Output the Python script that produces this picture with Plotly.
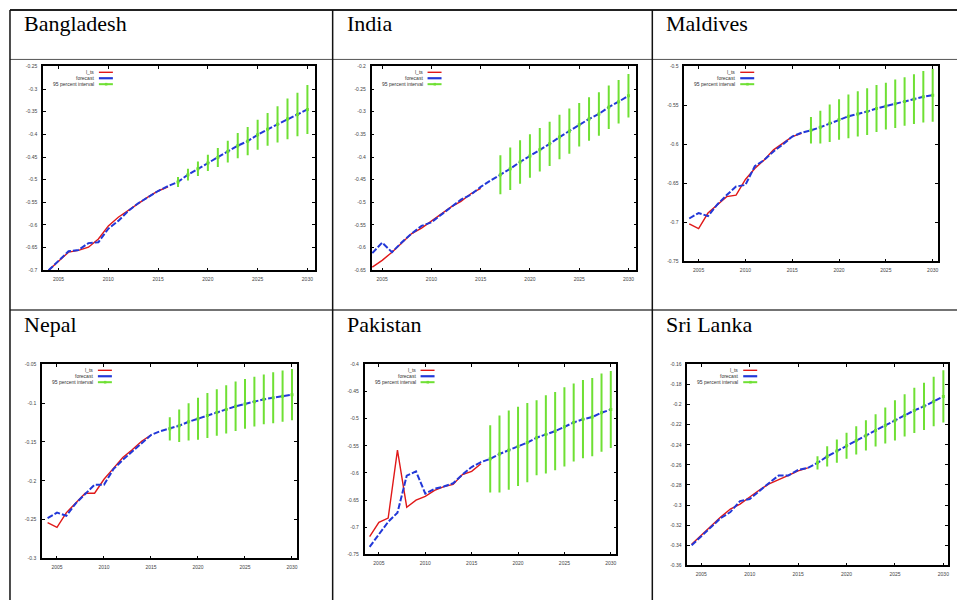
import plotly.graph_objects as go

W, H = 958, 603

countries = ["Bangladesh", "India", "Maldives", "Nepal", "Pakistan", "Sri Lanka"]
years_all = list(range(2004, 2031))
years_interval = list(range(2017, 2031))
x_tick_vals = [2005, 2010, 2015, 2020, 2025, 2030]
x_tick_text = ["2005", "2010", "2015", "2020", "2025", "2030"]

legend_labels = ["l_ts", "forecast", "95 percent interval"]

# ---- Bangladesh ----
bd_actual = [-0.700, -0.680, -0.660, -0.656, -0.649, -0.631, -0.602, -0.583, -0.567,
             -0.553, -0.538, -0.525, -0.516]
bd_forecast = [-0.700, -0.678, -0.658, -0.655, -0.640, -0.638, -0.608, -0.591, -0.569,
               -0.552, -0.538, -0.525, -0.514, -0.505, -0.489, -0.476, -0.463, -0.451,
               -0.438, -0.425, -0.415, -0.401, -0.389, -0.378, -0.366, -0.356, -0.345]
bd_half = [0.011, 0.013, 0.016, 0.018, 0.021, 0.024, 0.028, 0.031, 0.033, 0.036,
           0.040, 0.045, 0.048, 0.054]
bd_yticks = ["-0.7", "-0.65", "-0.6", "-0.55", "-0.5", "-0.45", "-0.4", "-0.35", "-0.3", "-0.25"]

# ---- India ----
in_actual = [-0.643, -0.628, -0.610, -0.589, -0.569, -0.557, -0.542, -0.525, -0.510,
             -0.498, -0.481, -0.469]
in_forecast = [-0.612, -0.589, -0.610, -0.588, -0.569, -0.552, -0.544, -0.527, -0.510,
               -0.494, -0.483, -0.466, -0.452, -0.439, -0.426, -0.411, -0.398, -0.384,
               -0.371, -0.356, -0.343, -0.329, -0.316, -0.305, -0.290, -0.278, -0.265]
in_half = [0.043, 0.047, 0.048, 0.048, 0.048, 0.049, 0.049, 0.050, 0.048, 0.048,
           0.048, 0.048, 0.048, 0.048]
in_yticks = ["-0.65", "-0.6", "-0.55", "-0.5", "-0.45", "-0.4", "-0.35", "-0.3", "-0.25", "-0.2"]

# ---- Maldives ----
mv_actual = [-0.702, -0.708, -0.688, -0.677, -0.667, -0.665, -0.645, -0.631, -0.620,
             -0.607, -0.598, -0.590, -0.586]
mv_forecast = [-0.695, -0.688, -0.692, -0.677, -0.665, -0.654, -0.652, -0.628, -0.620,
               -0.609, -0.600, -0.590, -0.585, -0.582, -0.578, -0.573, -0.568, -0.564,
               -0.561, -0.558, -0.554, -0.551, -0.548, -0.545, -0.542, -0.539, -0.537]
mv_half = [0.017, 0.021, 0.024, 0.026, 0.028, 0.029, 0.030, 0.030, 0.030, 0.031,
           0.031, 0.032, 0.033, 0.034]
mv_yticks = ["-0.75", "-0.7", "-0.65", "-0.6", "-0.55", "-0.5"]

# ---- Nepal ----
np_actual = [-0.254, -0.260, -0.241, -0.228, -0.216, -0.216, -0.198, -0.184, -0.170,
             -0.160, -0.149, -0.141]
np_forecast = [-0.248, -0.241, -0.245, -0.229, -0.217, -0.205, -0.205, -0.185, -0.173,
               -0.162, -0.151, -0.141, -0.136, -0.133, -0.129, -0.124, -0.120, -0.116,
               -0.112, -0.108, -0.104, -0.101, -0.098, -0.095, -0.093, -0.091, -0.089]
np_half = [0.015, 0.021, 0.024, 0.027, 0.029, 0.030, 0.031, 0.032, 0.032, 0.032,
           0.032, 0.033, 0.033, 0.033]
np_yticks = ["-0.3", "-0.25", "-0.2", "-0.15", "-0.1", "-0.05"]

# ---- Pakistan ----
pk_actual = [-0.717, -0.691, -0.683, -0.558, -0.663, -0.650, -0.643, -0.632, -0.625,
             -0.621, -0.603, -0.597, -0.583]
pk_forecast = [-0.736, -0.714, -0.690, -0.673, -0.605, -0.597, -0.638, -0.629, -0.625,
               -0.619, -0.603, -0.589, -0.580, -0.574, -0.565, -0.558, -0.551, -0.544,
               -0.535, -0.529, -0.523, -0.515, -0.507, -0.501, -0.497, -0.489, -0.483]
pk_half = [0.062, 0.071, 0.073, 0.073, 0.073, 0.069, 0.072, 0.072, 0.073, 0.072,
           0.072, 0.072, 0.072, 0.071]
pk_yticks = ["-0.75", "-0.7", "-0.65", "-0.6", "-0.55", "-0.5", "-0.45", "-0.4"]

# ---- Sri Lanka ----
lk_actual = [-0.339, -0.330, -0.320, -0.312, -0.304, -0.299, -0.292, -0.285, -0.279,
             -0.275, -0.2705, -0.266, -0.263]
lk_forecast = [-0.340, -0.331, -0.321, -0.313, -0.307, -0.296, -0.294, -0.2855, -0.278,
               -0.2705, -0.2705, -0.265, -0.263, -0.258, -0.2516, -0.2463, -0.241,
               -0.2357, -0.2307, -0.2257, -0.2208, -0.2158, -0.2108, -0.2058, -0.2018,
               -0.1969, -0.1919]
lk_half = [0.0066, 0.010, 0.0116, 0.013, 0.014, 0.015, 0.016, 0.018, 0.020, 0.021,
           0.0226, 0.0236, 0.0246, 0.026]
lk_yticks = ["-0.36", "-0.34", "-0.32", "-0.3", "-0.28", "-0.26", "-0.24", "-0.22",
             "-0.2", "-0.18", "-0.16"]

series = [
    (bd_actual, bd_forecast, bd_half, bd_yticks),
    (in_actual, in_forecast, in_half, in_yticks),
    (mv_actual, mv_forecast, mv_half, mv_yticks),
    (np_actual, np_forecast, np_half, np_yticks),
    (pk_actual, pk_forecast, pk_half, pk_yticks),
    (lk_actual, lk_forecast, lk_half, lk_yticks),
]

# layout (pixel boxes: left, top, right, bottom) and x ranges
boxes = [(43, 64, 315, 270), (372, 64, 637, 270), (685, 64, 939, 261),
         (42, 365, 297, 561), (365, 365, 617, 557), (688, 365, 949, 568)]
xranges = [(2003.43, 2030.73), (2003.93, 2030.8), (2003.47, 2030.57),
           (2003.4, 2030.5), (2003.46, 2030.6), (2003.55, 2030.48)]
header_pos = [(22, 21), (345, 21), (665, 21), (22, 325), (345, 325), (665, 325)]

RED = "#e01818"
BLUE = "#2238d8"
GREEN = "#6fe034"

fig = go.Figure()
layout = dict(width=W, height=H, margin=dict(l=0, r=0, t=0, b=0),
              paper_bgcolor="white", plot_bgcolor="white", showlegend=False)
annotations = []
shapes = []

def px(x):
    return x / W

def py(y):
    return 1 - y / H

for i, (act, fc, half, yt) in enumerate(series):
    n = i + 1
    xa = "x" if n == 1 else f"x{n}"
    ya = "y" if n == 1 else f"y{n}"
    l, t, r, b = boxes[i]
    ytv = [float(v) for v in yt]
    fig.add_trace(go.Scatter(x=years_all[:len(act)], y=act, mode="lines",
                             line=dict(color=RED, width=1.4), xaxis=xa, yaxis=ya))
    fig.add_trace(go.Scatter(x=years_all, y=fc, mode="lines",
                             line=dict(color=BLUE, width=2, dash="6px,2px"),
                             xaxis=xa, yaxis=ya))
    centers = fc[len(years_all) - len(years_interval):]
    fig.add_trace(go.Scatter(x=years_interval, y=centers, mode="markers",
                             marker=dict(color=GREEN, size=3, symbol="square"),
                             error_y=dict(type="data", array=half, color=GREEN,
                                          thickness=2, width=0),
                             xaxis=xa, yaxis=ya))
    axis_common = dict(showline=True, linecolor="black", linewidth=1.5, mirror="ticks",
                       ticks="inside", ticklen=3, tickwidth=1, tickcolor="black",
                       showgrid=False, zeroline=False,
                       tickfont=dict(size=5, color="#444", family="Liberation Sans"))
    layout["xaxis" if n == 1 else f"xaxis{n}"] = dict(
        domain=[px(l), px(r)], anchor=ya, range=list(xranges[i]),
        tickvals=x_tick_vals, ticktext=x_tick_text, ticklabelstandoff=3, **axis_common)
    layout["yaxis" if n == 1 else f"yaxis{n}"] = dict(
        domain=[py(b), py(t)], anchor=xa, range=[ytv[0], ytv[-1]],
        tickvals=ytv, ticktext=yt, ticklabelstandoff=3, **axis_common)

    # legend (gnuplot style: text right, sample after)
    for k, lab in enumerate(legend_labels):
        yy = t + 6 + 6 * k
        annotations.append(dict(x=px(l + 53), y=py(yy), xref="paper", yref="paper",
                                text=lab, showarrow=False, xanchor="right", yanchor="middle",
                                font=dict(size=5, color="#333", family="Liberation Sans")))
        col = [RED, BLUE, GREEN][k]
        wdt = [1.4, 2.2, 2][k]
        shapes.append(dict(type="line", xref="paper", yref="paper",
                           x0=px(l + 56), x1=px(l + 70), y0=py(yy), y1=py(yy),
                           line=dict(color=col, width=wdt)))
        if k == 2:
            shapes.append(dict(type="rect", xref="paper", yref="paper",
                               x0=px(l + 62), x1=px(l + 64.5), y0=py(yy - 1.3), y1=py(yy + 1.3),
                               fillcolor=GREEN, line=dict(width=0)))

    hx, hy = header_pos[i]
    annotations.append(dict(x=px(hx), y=py(hy), xref="paper", yref="paper",
                            text=countries[i], showarrow=False, xanchor="left",
                            yanchor="middle",
                            font=dict(size=22, color="black", family="Liberation Serif")))

# table lines
shapes += [
    dict(type="line", xref="paper", yref="paper", x0=px(10), x1=1, y0=py(7), y1=py(7),
         line=dict(color="#222", width=2)),
    dict(type="line", xref="paper", yref="paper", x0=px(10), x1=1, y0=py(57), y1=py(57),
         line=dict(color="#555", width=1)),
    dict(type="line", xref="paper", yref="paper", x0=px(10), x1=1, y0=py(310), y1=py(310),
         line=dict(color="#444", width=1.5)),
]
for vx in [10, 333, 653]:
    shapes.append(dict(type="line", xref="paper", yref="paper", x0=px(vx), x1=px(vx),
                       y0=py(7), y1=0, line=dict(color="#111", width=1.5)))

layout["annotations"] = annotations
layout["shapes"] = shapes
fig.update_layout(**layout)
fig.write_html("out.html", config={"displayModeBar": False},
               post_script="document.body.style.margin='0';document.body.style.overflow='hidden';")
